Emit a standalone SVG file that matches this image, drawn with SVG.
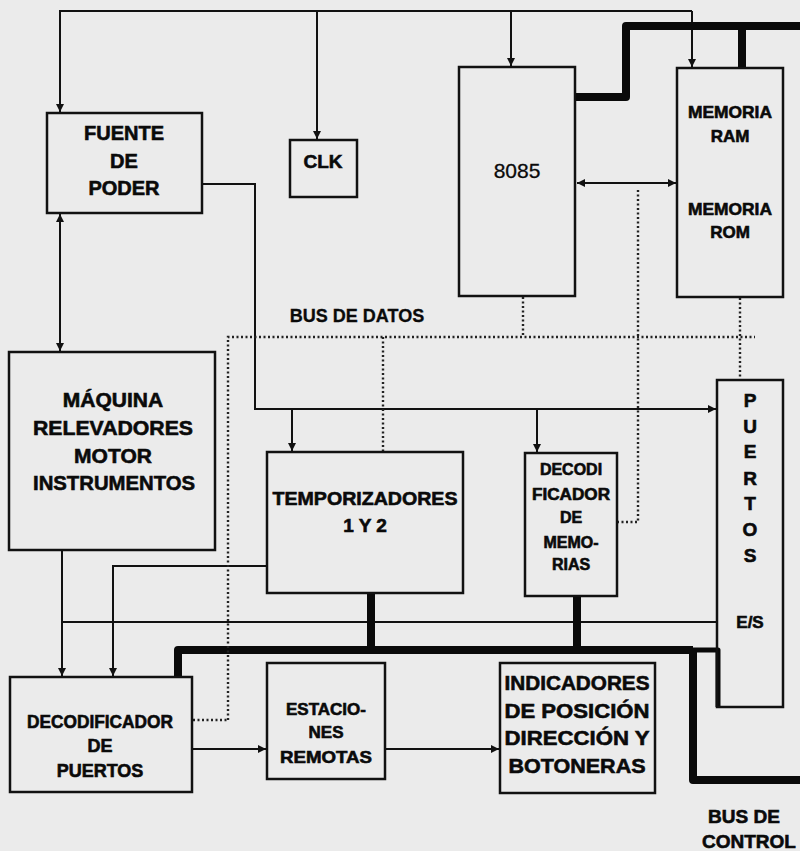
<svg xmlns="http://www.w3.org/2000/svg" width="800" height="851" viewBox="0 0 800 851">
<defs>
<marker id="arr" viewBox="0 0 10 10" refX="10" refY="5" markerWidth="8" markerHeight="8" markerUnits="userSpaceOnUse" orient="auto-start-reverse">
<path d="M0,0 L10,5 L0,10 z" fill="#111"/>
</marker>
</defs>
<style>
.box{fill:none;stroke:#111;stroke-width:2.5}
.ln{fill:none;stroke:#111;stroke-width:2}
.bus{fill:none;stroke:#0a0a0a;stroke-width:8;stroke-linejoin:round}
.dot{fill:none;stroke:#222;stroke-width:2.4;stroke-dasharray:2 2.5}
text{font-family:"Liberation Sans",Arial,sans-serif;font-weight:bold;fill:#0a0a0a;stroke:#0a0a0a;stroke-width:0.6;text-anchor:middle}
.reg{font-weight:normal;stroke-width:0.3}
</style>
<rect width="800" height="851" fill="#ebebeb"/>
<g id="connectors">
<polyline class="ln" points="60,113 60,11 692,11"/>
<line class="ln" x1="60" y1="80" x2="60" y2="112" marker-end="url(#arr)"/>
<line class="ln" x1="317" y1="11" x2="317" y2="139" marker-end="url(#arr)"/>
<line class="ln" x1="511" y1="11" x2="511" y2="66" marker-end="url(#arr)"/>
<line class="ln" x1="692" y1="11" x2="692" y2="67" marker-end="url(#arr)"/>
<polyline class="bus" points="576,97 626,97 626,26 800,26"/>
<line class="bus" x1="742" y1="26" x2="742" y2="68"/>
<line class="ln" x1="577" y1="183" x2="676" y2="183" marker-start="url(#arr)" marker-end="url(#arr)"/>
<line class="ln" x1="60" y1="214" x2="60" y2="351" marker-start="url(#arr)" marker-end="url(#arr)"/>
<polyline class="ln" points="203,184 255,184 255,409 716,409" marker-end="url(#arr)"/>
<line class="ln" x1="292" y1="409" x2="292" y2="451" marker-end="url(#arr)"/>
<line class="ln" x1="537" y1="409" x2="537" y2="452" marker-end="url(#arr)"/>
<line class="ln" x1="62" y1="551" x2="62" y2="676" marker-end="url(#arr)"/>
<polyline class="ln" points="267,566 113,566 113,676" marker-end="url(#arr)"/>
<polyline class="ln" points="62,622 717,622"/>
<line class="ln" x1="193" y1="749" x2="266" y2="749" marker-end="url(#arr)"/>
<line class="ln" x1="386" y1="749" x2="499" y2="749" marker-end="url(#arr)"/>
<polyline class="bus" points="178,677 178,650 693,650"/>
<line class="bus" x1="371" y1="593" x2="371" y2="650"/>
<line class="bus" x1="577" y1="596" x2="577" y2="650"/>
<polyline class="bus" points="693,650 693,780 800,780"/>
<polyline class="bus" style="stroke-width:5" points="693,650 718,650 718,707"/>
<polyline class="dot" points="228,720 228,337 755,337"/>
<line class="dot" x1="193" y1="720" x2="228" y2="720"/>
<line class="dot" x1="383" y1="337" x2="383" y2="452"/>
<line class="dot" x1="523" y1="297" x2="523" y2="337"/>
<polyline class="dot" points="638,190 638,522 618,522"/>
<line class="dot" x1="740" y1="298" x2="740" y2="380"/>
</g>
<g id="fuente"><rect class="box" x="47" y="113" width="155" height="100"/>
<text x="124" y="140" font-size="20">FUENTE</text><text x="124" y="168" font-size="20">DE</text><text x="124" y="195" font-size="20">PODER</text></g>
<g id="clk"><rect class="box" x="290" y="140" width="67" height="57"/><text x="323" y="168" font-size="19">CLK</text></g>
<g id="cpu8085"><rect class="box" x="459" y="67" width="116" height="229"/><text class="reg" x="517" y="178" font-size="21">8085</text></g>
<g id="memoria"><rect class="box" x="677" y="68" width="106" height="229"/>
<text x="730" y="118" font-size="17" textLength="84" lengthAdjust="spacingAndGlyphs">MEMORIA</text><text x="730" y="142" font-size="17">RAM</text>
<text x="730" y="215" font-size="17" textLength="84" lengthAdjust="spacingAndGlyphs">MEMORIA</text><text x="730" y="238" font-size="17">ROM</text></g>
<g id="maquina"><rect class="box" x="9" y="352" width="206" height="198"/>
<text x="113" y="407" font-size="21">MÁQUINA</text><text x="113" y="435" font-size="21" textLength="160" lengthAdjust="spacingAndGlyphs">RELEVADORES</text><text x="113" y="463" font-size="21">MOTOR</text><text x="114" y="490" font-size="21" textLength="162" lengthAdjust="spacingAndGlyphs">INSTRUMENTOS</text></g>
<g id="temporizadores"><rect class="box" x="267" y="452" width="196" height="141"/>
<text x="365" y="505" font-size="19" textLength="185" lengthAdjust="spacingAndGlyphs">TEMPORIZADORES</text><text x="365" y="532" font-size="19">1 Y 2</text></g>
<g id="decod_mem"><rect class="box" x="525" y="453" width="92" height="143"/>
<text x="571" y="475" font-size="16">DECODI</text><text x="571" y="500" font-size="16" textLength="78" lengthAdjust="spacingAndGlyphs">FICADOR</text><text x="571" y="523" font-size="16">DE</text><text x="571" y="548" font-size="16">MEMO-</text><text x="571" y="570" font-size="16">RIAS</text></g>
<g id="puertos"><rect class="box" x="717" y="380" width="66" height="327"/>
<text x="750" y="407" font-size="19">P</text><text x="750" y="433" font-size="19">U</text><text x="750" y="458" font-size="19">E</text><text x="750" y="485" font-size="19">R</text><text x="750" y="510" font-size="19">T</text><text x="750" y="536" font-size="19">O</text><text x="750" y="562" font-size="19">S</text>
<text x="750" y="628" font-size="17">E/S</text></g>
<g id="decod_puertos"><rect class="box" x="10" y="677" width="182" height="115"/>
<text x="100" y="728" font-size="18" textLength="146" lengthAdjust="spacingAndGlyphs">DECODIFICADOR</text><text x="100" y="752" font-size="18">DE</text><text x="100" y="777" font-size="18">PUERTOS</text></g>
<g id="estaciones"><rect class="box" x="267" y="663" width="118" height="116"/>
<text x="326" y="715" font-size="17">ESTACIO-</text><text x="326" y="738" font-size="17">NES</text><text x="326" y="763" font-size="17" textLength="92" lengthAdjust="spacingAndGlyphs">REMOTAS</text></g>
<g id="indicadores"><rect class="box" x="500" y="663" width="155" height="130"/>
<text x="577" y="690" font-size="21" textLength="145" lengthAdjust="spacingAndGlyphs">INDICADORES</text><text x="577" y="718" font-size="21" textLength="145" lengthAdjust="spacingAndGlyphs">DE POSICIÓN</text><text x="577" y="745" font-size="21" textLength="145" lengthAdjust="spacingAndGlyphs">DIRECCIÓN Y</text><text x="577" y="773" font-size="21" textLength="137" lengthAdjust="spacingAndGlyphs">BOTONERAS</text></g>
<g id="labels">
<text x="357" y="322" font-size="18" style="stroke-width:0.3">BUS DE DATOS</text>
<text x="744" y="823" font-size="19">BUS DE</text>
<text x="749" y="848" font-size="19">CONTROL</text>
</g>
</svg>
